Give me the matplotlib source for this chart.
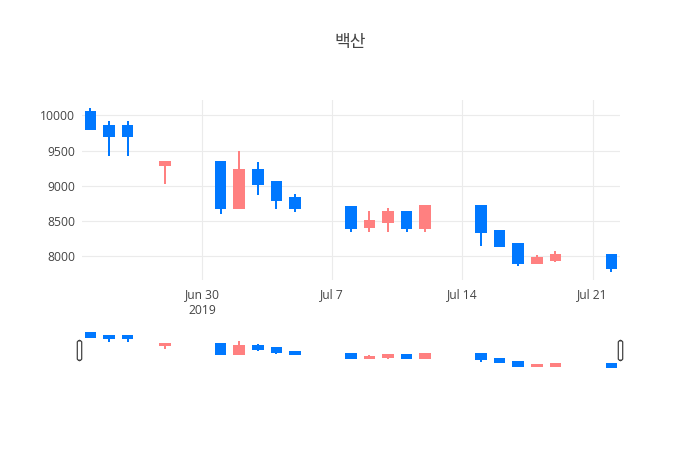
import matplotlib
matplotlib.use("Agg")
import matplotlib.pyplot as plt
import matplotlib.dates as mdates
from matplotlib.patches import FancyBboxPatch
import pandas as pd

# daily candles
dates = ["2019-06-24", "2019-06-25", "2019-06-26", "2019-06-28",
         "2019-07-01", "2019-07-02", "2019-07-03", "2019-07-04", "2019-07-05",
         "2019-07-08", "2019-07-09", "2019-07-10", "2019-07-11", "2019-07-12",
         "2019-07-15", "2019-07-16", "2019-07-17", "2019-07-18", "2019-07-19",
         "2019-07-22"]
opens = [10050, 9850, 9850, 9290, 9330, 8690, 9220, 9050, 8830,
         8700, 8410, 8480, 8630, 8400, 8710, 8360, 8170, 7900, 7950, 8020]
highs = [10100, 9920, 9920, 9350, 9330, 9490, 9340, 9050, 8890,
         8700, 8640, 8680, 8630, 8710, 8710, 8360, 8170, 8020, 8070, 8020]
lows = [9800, 9420, 9420, 9020, 8600, 8690, 8870, 8670, 8630,
        8340, 8340, 8350, 8340, 8350, 8150, 8150, 7860, 7900, 7920, 7780]
closes = [9800, 9700, 9700, 9330, 8690, 9220, 9030, 8800, 8690,
          8400, 8500, 8630, 8400, 8710, 8340, 8150, 7900, 7970, 8020, 7830]

title = "백산"
up_color = "#FF8080"
down_color = "#0078FF"
grid_color = "#EBEBEB"
text_color = "#444444"

plt.rcParams["font.family"] = ["Open Sans", "Noto Sans CJK KR", "DejaVu Sans"]

x = mdates.date2num(pd.to_datetime(dates))
x_lo = x[0] - 0.45
x_hi = x[-1] + 0.47
span = max(highs) - min(lows)
y_lo = min(lows) - 0.05 * span
y_hi = max(highs) + 0.05 * span

W, H = 700, 450
fig = plt.figure(figsize=(7, 4.5), dpi=100)
ax = fig.add_axes([82 / W, 1 - 280 / H, 538 / W, 180 / H])
sl = fig.add_axes([82 / W, 1 - 370 / H, 538 / W, 40 / H])


def draw_candles(a, lw_px):
    for xi, o, h, l, c in zip(x, opens, highs, lows, closes):
        col = up_color if c >= o else down_color
        a.vlines(xi, l, h, color=col, linewidth=lw_px * 0.72, zorder=2)
        a.bar(xi, abs(c - o), bottom=min(o, c), width=0.51,
              color=col, edgecolor=col, linewidth=lw_px * 0.72, zorder=3)


draw_candles(ax, 2)
ax.set_xlim(x_lo, x_hi)
ax.set_ylim(y_lo, y_hi)
ax.set_yticks([8000, 8500, 9000, 9500, 10000])
ticks = mdates.date2num(pd.to_datetime(["2019-06-30", "2019-07-07",
                                        "2019-07-14", "2019-07-21"]))
ax.set_xticks(ticks)
ax.set_xticklabels(["Jun 30\n2019", "Jul 7", "Jul 14", "Jul 21"])
ax.grid(True, color=grid_color, linewidth=0.8, zorder=0)
ax.set_axisbelow(True)
for s in ax.spines.values():
    s.set_visible(False)
ax.tick_params(length=0, labelsize=8.7, colors=text_color, pad=5)
ax.tick_params(axis="x", pad=6)
for lab in ax.get_xticklabels():
    lab.set_linespacing(1.25)

draw_candles(sl, 2)
sl.set_xlim(x_lo, x_hi)
sl.set_ylim(y_lo, y_hi)
sl.set_xticks([])
sl.set_yticks([])
for s in sl.spines.values():
    s.set_visible(False)
sl.patch.set_alpha(0)

# range slider grab handles
for cx in (79.5, 620.5):
    fig.patches.append(FancyBboxPatch(
        ((cx - 2.2) / W, 1 - 360.5 / H), 4.4 / W, 20 / H,
        boxstyle="round,pad=0,rounding_size=0.004",
        transform=fig.transFigure, facecolor="white",
        edgecolor="#444444", linewidth=0.9))

fig.text(350 / W, 1 - 43 / H, title, ha="center", va="center",
         fontsize=12.3, color=text_color)

fig.savefig("out.png", dpi=100, facecolor="white")
